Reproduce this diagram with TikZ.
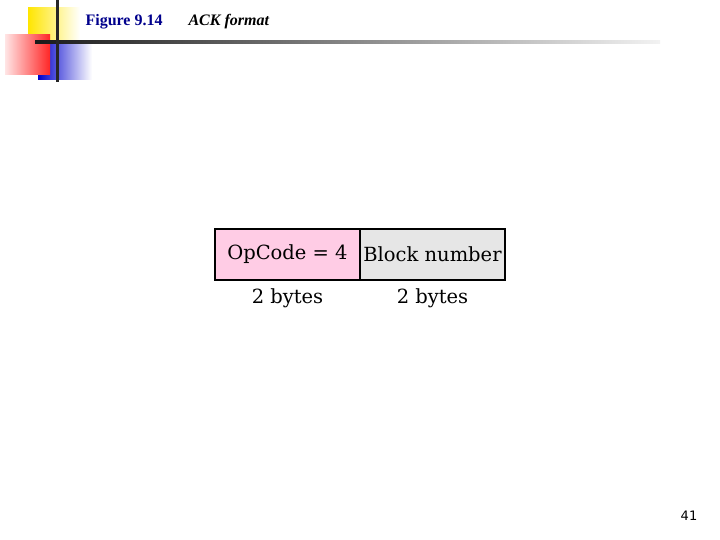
\documentclass[tikz,border=0pt]{standalone}
\usepackage{fontspec}
\setmainfont{Liberation Serif}
\newfontfamily\dejavu{DejaVu Serif}
\newfontfamily\sansf{DejaVu Sans}
\begin{document}
\begin{tikzpicture}[x=1pt,y=-1pt,
  field/.style={draw=black,line width=1.2pt,minimum width=145pt,minimum height=51pt,inner sep=0pt,font=\dejavu\fontsize{19.5}{22}\selectfont},
  lab/.style={font=\dejavu\fontsize{19.5}{22}\selectfont}]
\useasboundingbox (0,0) rectangle (720,540);
\definecolor{pinkf}{RGB}{255,204,229}
\definecolor{grayf}{RGB}{230,230,230}
\definecolor{titleblue}{RGB}{0,0,140}
% decoration
\fill[left color=yellow!80!orange, right color=white] (28,8) rectangle (80,55);
\fill[left color=blue!80!black, right color=white] (38,45) rectangle (92,80);
\fill[left color=red!10, right color=red!85] (5,35) rectangle (50,75);
\shade[left color=black!90, right color=black!5] (35,41) rectangle (660,44);
\fill[black!85] (56,0) rectangle (58.5,82);
\node[anchor=west,text=titleblue,font=\bfseries\fontsize{16}{18}\selectfont] (t1) at (82,22) {Figure 9.14};
\node[anchor=west,font=\bfseries\itshape\fontsize{16}{18}\selectfont] (t2) at (185,22) {ACK format};
% fields
\node[field,fill=pinkf] (op) at (287.5,254.5) {OpCode = 4};
\node[field,fill=grayf] (bn) at (432.5,254.5) {Block number};
\node[lab] (l1) at (287.5,298) {2 bytes};
\node[lab] (l2) at (432.5,298) {2 bytes};
\node[font=\sansf\fontsize{13}{15}\selectfont] (pg) at (689,516) {41};
\end{tikzpicture}
\end{document}
